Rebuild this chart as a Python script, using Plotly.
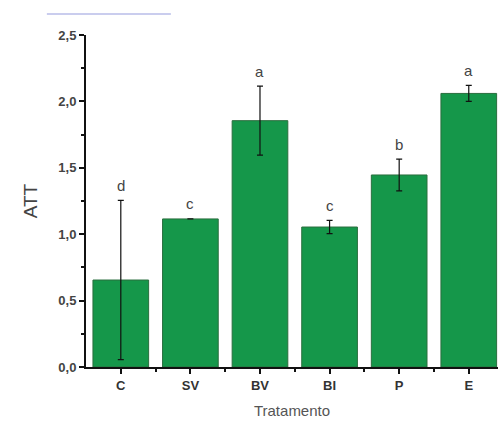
import plotly.graph_objects as go

categories = ["C", "SV", "BV", "BI", "P", "E"]
att_values = [0.655, 1.115, 1.855, 1.054, 1.446, 2.060]
att_errors = [0.60, 0.0, 0.26, 0.05, 0.12, 0.06]
letters = ["d", "c", "a", "c", "b", "a"]
y_ticks = [0.0, 0.5, 1.0, 1.5, 2.0, 2.5]
y_tick_labels = ["0,0", "0,5", "1,0", "1,5", "2,0", "2,5"]

xpos = list(range(len(categories)))
font_family = "Liberation Sans, Arial, sans-serif"

fig = go.Figure()
fig.add_trace(go.Bar(
    x=xpos, y=att_values, width=0.8,
    marker=dict(color="#15974a", line=dict(color="#2a6e3e", width=1)),
    error_y=dict(type="data", array=att_errors, visible=True,
                 color="#111111", thickness=1.2, width=3),
    showlegend=False,
))

for x, v, e, t in zip(xpos, att_values, att_errors, letters):
    fig.add_annotation(x=x, y=v + e, text=t, showarrow=False, yshift=15,
                       font=dict(family=font_family, size=15, color="#444444"))

fig.add_shape(type="line", xref="paper", yref="paper",
              x0=-0.095, x1=0.206, y0=1.063, y1=1.063,
              line=dict(color="#b8bde8", width=1.5))

fig.update_layout(
    width=498, height=425,
    margin=dict(l=86, r=0, t=35, b=58),
    plot_bgcolor="white", paper_bgcolor="white",
    font=dict(family=font_family, color="#333333"),
    xaxis=dict(
        range=[-0.5, 5.42], tickvals=xpos, ticktext=categories,
        showline=True, linecolor="#111111", linewidth=2,
        ticks="outside", ticklen=5, tickwidth=2, tickcolor="#111111",
        tickfont=dict(size=13, color="#333333", weight="bold"),
        minor=dict(tickvals=[0.5, 1.5, 2.5, 3.5, 4.5], ticks="outside", ticklen=3, tickwidth=1.5, tickcolor="#111111"),
        showgrid=False, zeroline=False,
        title=dict(text="Tratamento", font=dict(size=15, color="#555555"), standoff=14),
    ),
    yaxis=dict(
        range=[0, 2.5], tickvals=y_ticks, ticktext=y_tick_labels,
        showline=True, linecolor="#111111", linewidth=2,
        ticks="outside", ticklen=5, tickwidth=2, tickcolor="#111111",
        tickfont=dict(size=13, color="#444444", weight="bold"),
        minor=dict(tickvals=[0.25, 0.75, 1.25, 1.75, 2.25], ticks="outside", ticklen=3, tickwidth=1.5, tickcolor="#111111"),
        showgrid=False, zeroline=False,
        title=dict(text="ATT", font=dict(size=19, color="#444444"), standoff=16),
    ),
)

fig.write_html("out.html", config={"responsive": False, "displayModeBar": False},
               post_script="document.body.style.margin='0';document.body.style.overflow='hidden';")
